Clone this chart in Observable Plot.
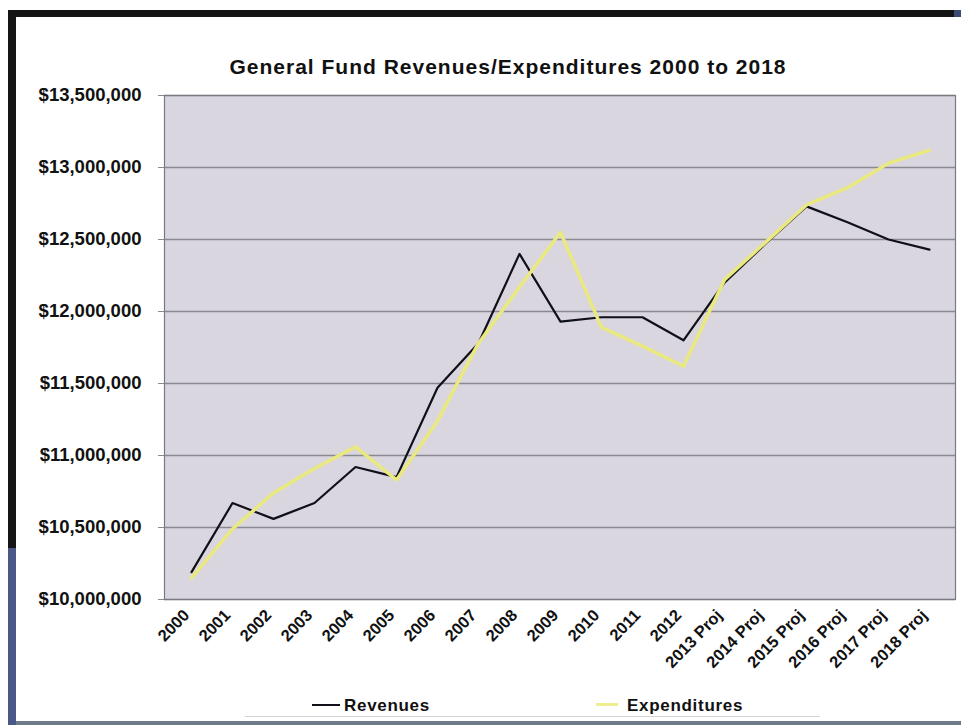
<!DOCTYPE html>
<html>
<head>
<meta charset="utf-8">
<script src="https://cdn.jsdelivr.net/npm/d3@7"></script>
<script src="https://cdn.jsdelivr.net/npm/@observablehq/plot@0.6"></script>
<style>
  html, body { margin: 0; padding: 0; background: #fff; }
  #wrap { position: relative; width: 961px; height: 725px; overflow: hidden; background: #fff;
          font-family: "Liberation Sans", Arial, sans-serif; color: #111; }
  #chart { position: absolute; left: 0; top: 0; }
  .bar { position: absolute; }
  #title { position: absolute; top: 55px; left: 0; width: 1016px; text-align: center;
           font-size: 21px; font-weight: bold; letter-spacing: 1px; }
  .leg { position: absolute; top: 696px; font-size: 17px; font-weight: bold; letter-spacing: 0.7px; white-space: nowrap; }
  .sw { display: inline-block; width: 28px; height: 0; vertical-align: middle; margin-right: 4px; position: relative; top: -2px; }
</style>
</head>
<body>
<div id="wrap">
  <div id="chart"></div>
  <div id="title">General Fund Revenues/Expenditures 2000 to 2018</div>
  <div class="leg" style="left:312px"><span class="sw" style="border-top:2px solid #101018"></span>Revenues</div>
  <div class="leg" style="left:596px"><span class="sw" style="width:22px;border-top:3px solid #eeee90;margin-right:9px"></span>Expenditures</div>
  <div class="bar" style="left:8px;top:10px;width:953px;height:7px;background:#151515"></div>
  <div class="bar" style="left:954px;top:10px;width:7px;height:7px;background:#3c4a78"></div>
  <div class="bar" style="left:8px;top:10px;width:8px;height:538px;background:#151515"></div>
  <div class="bar" style="left:8px;top:548px;width:8px;height:177px;background:#4a5888"></div>
  <div class="bar" style="left:16px;top:721px;width:945px;height:4px;background:#6e7a86"></div>
  <div class="bar" style="left:245px;top:716px;width:575px;height:1px;background:#d4d4d4"></div>
</div>
<script>
const years = ["2000","2001","2002","2003","2004","2005","2006","2007","2008","2009","2010","2011","2012",
               "2013 Proj","2014 Proj","2015 Proj","2016 Proj","2017 Proj","2018 Proj"];
const revenues = [10190000, 10670000, 10560000, 10670000, 10920000, 10850000, 11470000, 11780000, 12400000,
                  11930000, 11960000, 11960000, 11800000, 12200000, 12470000, 12730000, 12620000, 12500000, 12430000];
const expenditures = [10150000, 10490000, 10740000, 10910000, 11060000, 10830000, 11240000, 11780000, 12170000,
                      12550000, 11890000, 11760000, 11620000, 12220000, 12480000, 12740000, 12860000, 13030000, 13120000];
const yTicks = [10000000, 10500000, 11000000, 11500000, 12000000, 12500000, 13000000, 13500000];

const data = years.map((y, i) => ({year: y, rev: revenues[i], exp: expenditures[i]}));
const fmt = d => "$" + d3.format(",")(d);

const chart = Plot.plot({
  width: 961,
  height: 690,
  marginLeft: 164,
  marginRight: 6,
  marginTop: 95,
  marginBottom: 91,
  style: {fontFamily: "'Liberation Sans', Arial, sans-serif", background: "transparent", color: "#111"},
  x: {type: "point", domain: years, padding: 0.5, label: null},
  y: {domain: [10000000, 13500000], label: null},
  marks: [
    Plot.frame({fill: "#d9d6e0", stroke: null}),
    Plot.ruleY(yTicks, {stroke: "#8a8890", strokeWidth: 1.3}),
    Plot.frame({stroke: "#7a7a80", strokeWidth: 1.2}),
    Plot.axisY({ticks: yTicks, tickFormat: fmt, tickSize: 6, tickPadding: 17, fontSize: 18.5, fontWeight: "bold", label: null, stroke: "#8a8890"}),
    Plot.axisX({tickRotate: -46, tickSize: 0, tickPadding: 13, dx: -5, fontSize: 16.5, fontWeight: "bold", label: null}),
    Plot.line(data, {x: "year", y: "rev", stroke: "#101018", strokeWidth: 2.2}),
    Plot.line(data, {x: "year", y: "exp", stroke: "#e9e97f", strokeWidth: 3.5})
  ]
});
document.getElementById("chart").appendChild(chart);
</script>
</body>
</html>
